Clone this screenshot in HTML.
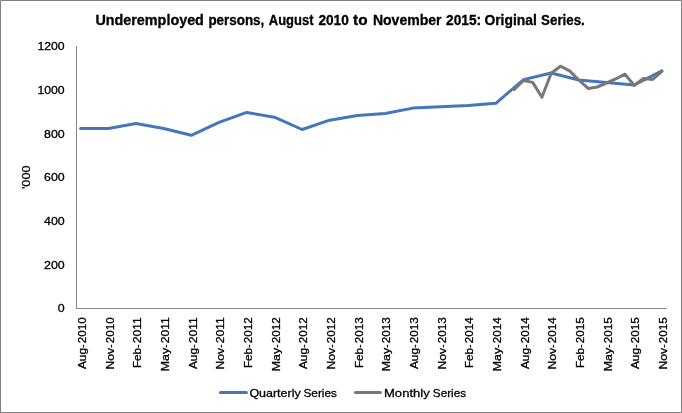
<!DOCTYPE html>
<html lang="en">
<head>
<meta charset="utf-8">
<title>Underemployed persons, August 2010 to November 2015: Original Series.</title>
<style>
html,body{margin:0;padding:0;background:#fff;}
svg{display:block;}
text{font-family:"Liberation Sans",sans-serif;fill:#000;stroke:#000;stroke-width:0.3px;}
.t{font-weight:bold;font-size:14.3px;}
.a{font-size:11.8px;}
</style>
</head>
<body>
<svg width="682" height="413" viewBox="0 0 682 413">
<rect x="0" y="0" width="682" height="413" fill="#fff"/>
<rect x="0.5" y="0.5" width="681" height="412" fill="none" stroke="#808080" stroke-width="1"/>
<rect x="0" y="0" width="1" height="1" fill="#a2a2a2"/><rect x="681" y="0" width="1" height="1" fill="#a2a2a2"/>
<rect x="0" y="412" width="1" height="1" fill="#909090"/><rect x="681" y="412" width="1" height="1" fill="#909090"/>

<text class="t" y="25"><tspan x="95.4" textLength="108.5" lengthAdjust="spacingAndGlyphs">Underemployed</tspan> <tspan x="208.4" textLength="55.9" lengthAdjust="spacingAndGlyphs">persons,</tspan> <tspan x="268.8" textLength="44.7" lengthAdjust="spacingAndGlyphs">August</tspan> <tspan x="318.4" textLength="30.4" lengthAdjust="spacingAndGlyphs">2010</tspan> <tspan x="353.1" textLength="14.5" lengthAdjust="spacingAndGlyphs">to</tspan> <tspan x="372.9" textLength="68.6" lengthAdjust="spacingAndGlyphs">November</tspan> <tspan x="446.0" textLength="35.1" lengthAdjust="spacingAndGlyphs">2015:</tspan> <tspan x="484.4" textLength="52.5" lengthAdjust="spacingAndGlyphs">Original</tspan> <tspan x="541.1" textLength="43.7" lengthAdjust="spacingAndGlyphs">Series.</tspan></text>
<g stroke="#868686" stroke-width="1" fill="none" shape-rendering="crispEdges">
<line x1="76.5" y1="46" x2="76.5" y2="309"/>
<line x1="76" y1="308.5" x2="667" y2="308.5"/>
</g>
<g class="a" text-anchor="end">
<text x="64.7" y="312.2" textLength="6.9" lengthAdjust="spacingAndGlyphs">0</text>
<text x="64.7" y="268.5" textLength="20.7" lengthAdjust="spacingAndGlyphs">200</text>
<text x="64.7" y="224.9" textLength="20.7" lengthAdjust="spacingAndGlyphs">400</text>
<text x="64.7" y="181.2" textLength="20.7" lengthAdjust="spacingAndGlyphs">600</text>
<text x="64.7" y="137.5" textLength="20.7" lengthAdjust="spacingAndGlyphs">800</text>
<text x="64.7" y="93.9" textLength="27.3" lengthAdjust="spacingAndGlyphs">1000</text>
<text x="64.7" y="50.2" textLength="27.3" lengthAdjust="spacingAndGlyphs">1200</text>
</g>
<text class="a" transform="translate(30.2,177.3) rotate(-90)" text-anchor="middle" textLength="23.6" lengthAdjust="spacingAndGlyphs">'000</text>
<g class="a" text-anchor="end">
<text transform="translate(85.8,317.3) rotate(-90)"><tspan x="-30.6" textLength="21.2" lengthAdjust="spacingAndGlyphs">Aug</tspan><tspan x="-28.8" text-anchor="middle" textLength="3.3" lengthAdjust="spacingAndGlyphs">-</tspan><tspan x="0" textLength="26" lengthAdjust="spacingAndGlyphs">2010</tspan></text>
<text transform="translate(113.5,317.3) rotate(-90)"><tspan x="-30.6" textLength="21.6" lengthAdjust="spacingAndGlyphs">Nov</tspan><tspan x="-28.8" text-anchor="middle" textLength="3.3" lengthAdjust="spacingAndGlyphs">-</tspan><tspan x="0" textLength="26" lengthAdjust="spacingAndGlyphs">2010</tspan></text>
<text transform="translate(141.2,317.3) rotate(-90)"><tspan x="-30.6" textLength="20.2" lengthAdjust="spacingAndGlyphs">Feb</tspan><tspan x="-28.8" text-anchor="middle" textLength="3.3" lengthAdjust="spacingAndGlyphs">-</tspan><tspan x="0" textLength="26" lengthAdjust="spacingAndGlyphs">2011</tspan></text>
<text transform="translate(168.8,317.3) rotate(-90)"><tspan x="-30.6" textLength="23.4" lengthAdjust="spacingAndGlyphs">May</tspan><tspan x="-28.8" text-anchor="middle" textLength="3.3" lengthAdjust="spacingAndGlyphs">-</tspan><tspan x="0" textLength="26" lengthAdjust="spacingAndGlyphs">2011</tspan></text>
<text transform="translate(196.5,317.3) rotate(-90)"><tspan x="-30.6" textLength="21.2" lengthAdjust="spacingAndGlyphs">Aug</tspan><tspan x="-28.8" text-anchor="middle" textLength="3.3" lengthAdjust="spacingAndGlyphs">-</tspan><tspan x="0" textLength="26" lengthAdjust="spacingAndGlyphs">2011</tspan></text>
<text transform="translate(224.2,317.3) rotate(-90)"><tspan x="-30.6" textLength="21.6" lengthAdjust="spacingAndGlyphs">Nov</tspan><tspan x="-28.8" text-anchor="middle" textLength="3.3" lengthAdjust="spacingAndGlyphs">-</tspan><tspan x="0" textLength="26" lengthAdjust="spacingAndGlyphs">2011</tspan></text>
<text transform="translate(251.9,317.3) rotate(-90)"><tspan x="-30.6" textLength="20.2" lengthAdjust="spacingAndGlyphs">Feb</tspan><tspan x="-28.8" text-anchor="middle" textLength="3.3" lengthAdjust="spacingAndGlyphs">-</tspan><tspan x="0" textLength="26" lengthAdjust="spacingAndGlyphs">2012</tspan></text>
<text transform="translate(279.6,317.3) rotate(-90)"><tspan x="-30.6" textLength="23.4" lengthAdjust="spacingAndGlyphs">May</tspan><tspan x="-28.8" text-anchor="middle" textLength="3.3" lengthAdjust="spacingAndGlyphs">-</tspan><tspan x="0" textLength="26" lengthAdjust="spacingAndGlyphs">2012</tspan></text>
<text transform="translate(307.2,317.3) rotate(-90)"><tspan x="-30.6" textLength="21.2" lengthAdjust="spacingAndGlyphs">Aug</tspan><tspan x="-28.8" text-anchor="middle" textLength="3.3" lengthAdjust="spacingAndGlyphs">-</tspan><tspan x="0" textLength="26" lengthAdjust="spacingAndGlyphs">2012</tspan></text>
<text transform="translate(334.9,317.3) rotate(-90)"><tspan x="-30.6" textLength="21.6" lengthAdjust="spacingAndGlyphs">Nov</tspan><tspan x="-28.8" text-anchor="middle" textLength="3.3" lengthAdjust="spacingAndGlyphs">-</tspan><tspan x="0" textLength="26" lengthAdjust="spacingAndGlyphs">2012</tspan></text>
<text transform="translate(362.6,317.3) rotate(-90)"><tspan x="-30.6" textLength="20.2" lengthAdjust="spacingAndGlyphs">Feb</tspan><tspan x="-28.8" text-anchor="middle" textLength="3.3" lengthAdjust="spacingAndGlyphs">-</tspan><tspan x="0" textLength="26" lengthAdjust="spacingAndGlyphs">2013</tspan></text>
<text transform="translate(390.3,317.3) rotate(-90)"><tspan x="-30.6" textLength="23.4" lengthAdjust="spacingAndGlyphs">May</tspan><tspan x="-28.8" text-anchor="middle" textLength="3.3" lengthAdjust="spacingAndGlyphs">-</tspan><tspan x="0" textLength="26" lengthAdjust="spacingAndGlyphs">2013</tspan></text>
<text transform="translate(418.0,317.3) rotate(-90)"><tspan x="-30.6" textLength="21.2" lengthAdjust="spacingAndGlyphs">Aug</tspan><tspan x="-28.8" text-anchor="middle" textLength="3.3" lengthAdjust="spacingAndGlyphs">-</tspan><tspan x="0" textLength="26" lengthAdjust="spacingAndGlyphs">2013</tspan></text>
<text transform="translate(445.6,317.3) rotate(-90)"><tspan x="-30.6" textLength="21.6" lengthAdjust="spacingAndGlyphs">Nov</tspan><tspan x="-28.8" text-anchor="middle" textLength="3.3" lengthAdjust="spacingAndGlyphs">-</tspan><tspan x="0" textLength="26" lengthAdjust="spacingAndGlyphs">2013</tspan></text>
<text transform="translate(473.3,317.3) rotate(-90)"><tspan x="-30.6" textLength="20.2" lengthAdjust="spacingAndGlyphs">Feb</tspan><tspan x="-28.8" text-anchor="middle" textLength="3.3" lengthAdjust="spacingAndGlyphs">-</tspan><tspan x="0" textLength="26" lengthAdjust="spacingAndGlyphs">2014</tspan></text>
<text transform="translate(501.0,317.3) rotate(-90)"><tspan x="-30.6" textLength="23.4" lengthAdjust="spacingAndGlyphs">May</tspan><tspan x="-28.8" text-anchor="middle" textLength="3.3" lengthAdjust="spacingAndGlyphs">-</tspan><tspan x="0" textLength="26" lengthAdjust="spacingAndGlyphs">2014</tspan></text>
<text transform="translate(528.7,317.3) rotate(-90)"><tspan x="-30.6" textLength="21.2" lengthAdjust="spacingAndGlyphs">Aug</tspan><tspan x="-28.8" text-anchor="middle" textLength="3.3" lengthAdjust="spacingAndGlyphs">-</tspan><tspan x="0" textLength="26" lengthAdjust="spacingAndGlyphs">2014</tspan></text>
<text transform="translate(556.4,317.3) rotate(-90)"><tspan x="-30.6" textLength="21.6" lengthAdjust="spacingAndGlyphs">Nov</tspan><tspan x="-28.8" text-anchor="middle" textLength="3.3" lengthAdjust="spacingAndGlyphs">-</tspan><tspan x="0" textLength="26" lengthAdjust="spacingAndGlyphs">2014</tspan></text>
<text transform="translate(584.0,317.3) rotate(-90)"><tspan x="-30.6" textLength="20.2" lengthAdjust="spacingAndGlyphs">Feb</tspan><tspan x="-28.8" text-anchor="middle" textLength="3.3" lengthAdjust="spacingAndGlyphs">-</tspan><tspan x="0" textLength="26" lengthAdjust="spacingAndGlyphs">2015</tspan></text>
<text transform="translate(611.7,317.3) rotate(-90)"><tspan x="-30.6" textLength="23.4" lengthAdjust="spacingAndGlyphs">May</tspan><tspan x="-28.8" text-anchor="middle" textLength="3.3" lengthAdjust="spacingAndGlyphs">-</tspan><tspan x="0" textLength="26" lengthAdjust="spacingAndGlyphs">2015</tspan></text>
<text transform="translate(639.4,317.3) rotate(-90)"><tspan x="-30.6" textLength="21.2" lengthAdjust="spacingAndGlyphs">Aug</tspan><tspan x="-28.8" text-anchor="middle" textLength="3.3" lengthAdjust="spacingAndGlyphs">-</tspan><tspan x="0" textLength="26" lengthAdjust="spacingAndGlyphs">2015</tspan></text>
<text transform="translate(667.1,317.3) rotate(-90)"><tspan x="-30.6" textLength="21.6" lengthAdjust="spacingAndGlyphs">Nov</tspan><tspan x="-28.8" text-anchor="middle" textLength="3.3" lengthAdjust="spacingAndGlyphs">-</tspan><tspan x="0" textLength="26" lengthAdjust="spacingAndGlyphs">2015</tspan></text>
</g>
<polyline points="80.6,128.5 108.3,128.5 136.0,123.6 163.7,128.5 191.3,135.3 219.0,122.3 246.7,112.4 274.4,117.2 302.1,129.5 329.7,120.2 357.4,115.5 385.1,113.5 412.8,108.1 440.4,106.7 468.1,105.6 495.8,103.3 523.5,79.6 551.2,73.0 578.8,80.0 606.5,82.6 634.2,85.0 661.9,70.8" fill="none" stroke="#4676ba" stroke-width="3" stroke-linecap="round" stroke-linejoin="round"/>
<polyline points="514.3,89.5 523.5,80.5 532.7,82.4 541.9,97.3 551.2,73.3 560.4,66.2 569.6,70.9 578.8,80.0 588.1,88.4 597.3,87.0 606.5,83.0 615.8,78.8 625.0,74.2 634.2,85.5 643.4,78.5 652.7,79.5 661.9,71.3" fill="none" stroke="#787878" stroke-width="3" stroke-linecap="round" stroke-linejoin="round"/>
<line x1="220.4" y1="392.4" x2="246.4" y2="392.4" stroke="#4676ba" stroke-width="3" stroke-linecap="round"/>
<line x1="355.4" y1="392.4" x2="380.4" y2="392.4" stroke="#787878" stroke-width="3" stroke-linecap="round"/>
<g class="a">
<text y="396.5"><tspan x="249.4" textLength="51.3" lengthAdjust="spacingAndGlyphs">Quarterly</tspan> <tspan x="303.5" textLength="33.4" lengthAdjust="spacingAndGlyphs">Series</tspan></text>
<text y="396.5"><tspan x="384.0" textLength="45.7" lengthAdjust="spacingAndGlyphs">Monthly</tspan> <tspan x="432.8" textLength="33.3" lengthAdjust="spacingAndGlyphs">Series</tspan></text>
</g>
</svg>
</body>
</html>
